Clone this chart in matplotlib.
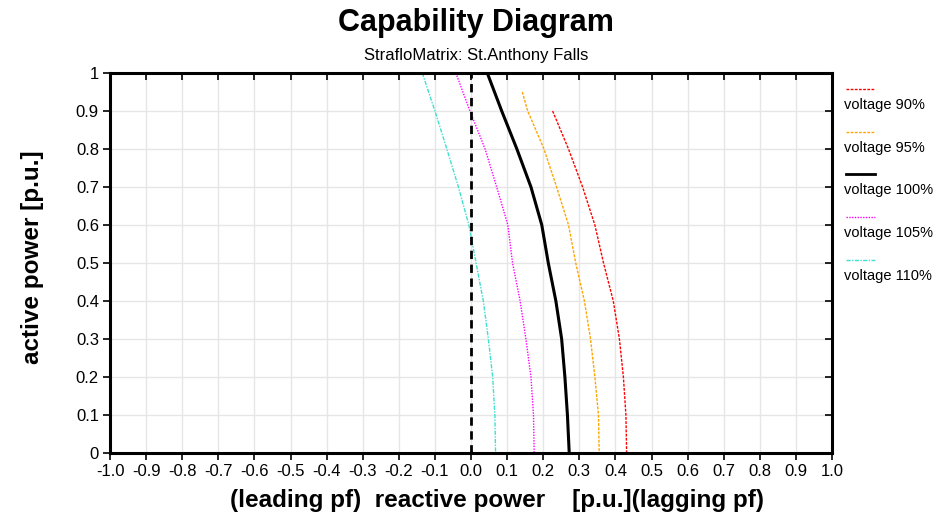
import numpy as np
import matplotlib
matplotlib.use("Agg")
import matplotlib.pyplot as plt
from matplotlib.lines import Line2D

plt.rcParams.update({"font.family": ["Liberation Sans Narrow", "Liberation Sans", "DejaVu Sans"]})

# capability curves: active power P (p.u.) vs reactive power Q (p.u.)
p_100 = [1.0, 0.9, 0.8, 0.7, 0.6, 0.5, 0.4, 0.3, 0.2, 0.1, 0.0]
q_100 = [0.045, 0.085, 0.127, 0.166, 0.196, 0.214, 0.235, 0.251, 0.260, 0.267, 0.272]
p_90 = [0.9, 0.8, 0.7, 0.6, 0.5, 0.4, 0.3, 0.2, 0.1, 0.0]
q_90 = [0.226, 0.270, 0.309, 0.343, 0.367, 0.394, 0.411, 0.422, 0.429, 0.431]
p_95 = [0.95, 0.9, 0.8, 0.7, 0.6, 0.5, 0.4, 0.3, 0.2, 0.1, 0.0]
q_95 = [0.142, 0.157, 0.202, 0.237, 0.270, 0.290, 0.314, 0.331, 0.343, 0.353, 0.355]
p_105 = [1.0, 0.9, 0.8, 0.7, 0.6, 0.5, 0.4, 0.3, 0.2, 0.1, 0.0]
q_105 = [-0.042, -0.003, 0.039, 0.071, 0.102, 0.115, 0.136, 0.152, 0.166, 0.173, 0.175]
p_110 = [1.0, 0.9, 0.8, 0.7, 0.6, 0.5, 0.4, 0.3, 0.2, 0.1, 0.0]
q_110 = [-0.135, -0.100, -0.067, -0.035, -0.006, 0.014, 0.034, 0.048, 0.060, 0.066, 0.068]

labels = ["voltage 90%", "voltage 95%", "voltage 100%", "voltage 105%", "voltage 110%"]
xticks = np.round(np.arange(-1.0, 1.01, 0.1), 1) + 0.0
yticks = np.round(np.arange(0, 1.01, 0.1), 1) + 0.0

fig = plt.figure(figsize=(9.37, 5.17), dpi=100, facecolor="white")
ax = fig.add_axes([0.1174, 0.1238, 0.7706, 0.735])

series = [
    (q_90, p_90, dict(color="red", ls=(0, (2, 1)), lw=1.0)),
    (q_95, p_95, dict(color="orange", ls=(0, (2, 1)), lw=1.0)),
    (q_100, p_100, dict(color="black", ls="-", lw=2.2)),
    (q_105, p_105, dict(color="magenta", ls=(0, (1, 1)), lw=1.0)),
    (q_110, p_110, dict(color="#40E0D0", ls=(0, (3, 1, 1, 1)), lw=1.0)),
]
for q, p, st in series:
    ax.plot(q, p, **st)

ax.axvline(0, color="black", ls=(0, (3, 2)), lw=2)

ax.set_xlim(-1.0, 1.0)
ax.set_ylim(0, 1)
ax.set_xticks(xticks)
ax.set_xticklabels([f"{abs(v):.1f}" if abs(v) < 1e-9 else f"{v:.1f}" for v in xticks], fontsize=12)
ax.set_yticks(yticks)
ax.set_yticklabels([f"{v:g}" for v in yticks], fontsize=12)
ax.tick_params(axis="both", direction="out", length=5, width=1.2, pad=3)
ax.tick_params(top=True, right=True)
for t in ax.xaxis.get_major_ticks():
    t.tick2line.set_marker(3)  # inward on top
for t in ax.yaxis.get_major_ticks():
    t.tick2line.set_marker(0)  # inward on right
ax.grid(True, color="#e6e6e6", lw=1)
ax.set_axisbelow(True)
for s in ax.spines.values():
    s.set_linewidth(2.2)

ax.set_xlabel("(leading pf)  reactive power    [p.u.](lagging pf)", fontsize=17.5,
              fontweight="bold")
ax.xaxis.set_label_coords(0.536, -0.124)
ax.xaxis.label.set_va("center")
ax.set_ylabel("active power [p.u.]", fontsize=17.5, fontweight="bold")
ax.yaxis.set_label_coords(-0.0914, 0.515)

fig.text(0.508, 0.955, "Capability Diagram", ha="center", va="center",
         fontsize=22, fontweight="bold")
fig.text(0.508, 0.893, "StrafloMatrix: St.Anthony Falls", ha="center", va="center",
         fontsize=12)

# legend: line sample above label, right of the plot
leg_y = [89, 132, 174, 217, 260]
for (q, p, st), lab, y in zip(series, labels, leg_y):
    yf = 1 - y / 517
    fig.add_artist(Line2D([846 / 937, 875 / 937], [yf, yf], color=st["color"],
                          ls=st["ls"], lw=st["lw"] if st["lw"] < 2 else 2.0))
    fig.text(844 / 937, 1 - (y + 16) / 517, lab, ha="left", va="center", fontsize=10.5)

fig.savefig("out.png", dpi=100, facecolor="white")
